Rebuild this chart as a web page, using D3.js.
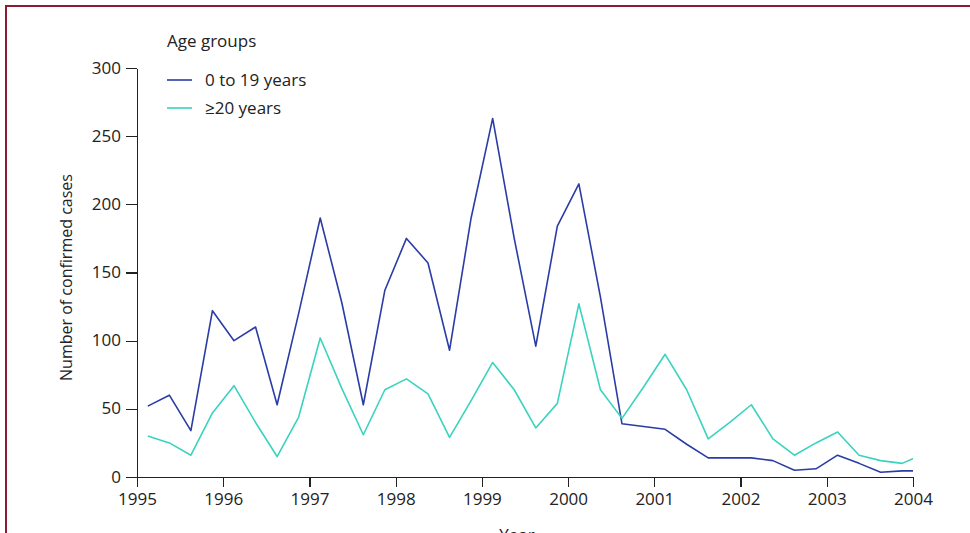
<!DOCTYPE html>
<html lang="en">
<head>
    <meta charset="UTF-8">
    <title>Confirmed cases by age group</title>
    <script src="https://d3js.org/d3.v7.min.js"></script>
    <style>
        * { margin: 0; padding: 0; box-sizing: border-box; }
        body { background: #fff; font-family: "Open Sans", sans-serif; overflow: hidden; }
        .axis path, .axis line { stroke: #222; stroke-width: 1.3; shape-rendering: crispEdges; }
        .axis text { font-size: 17px; fill: #222; font-family: "Open Sans", sans-serif; }
        .legend text { font-size: 17px; fill: #222; }
    </style>
</head>
<body>
    <div id="chart"></div>
    <script>
        // quarterly data, plotted at the middle of each quarter
        const quarters = [
            "1995-Q1", "1995-Q2", "1995-Q3", "1995-Q4",
            "1996-Q1", "1996-Q2", "1996-Q3", "1996-Q4",
            "1997-Q1", "1997-Q2", "1997-Q3", "1997-Q4",
            "1998-Q1", "1998-Q2", "1998-Q3", "1998-Q4",
            "1999-Q1", "1999-Q2", "1999-Q3", "1999-Q4",
            "2000-Q1", "2000-Q2", "2000-Q3", "2000-Q4",
            "2001-Q1", "2001-Q2", "2001-Q3", "2001-Q4",
            "2002-Q1", "2002-Q2", "2002-Q3", "2002-Q4",
            "2003-Q1", "2003-Q2", "2003-Q3", "2003-Q4",
            "2004-Q1"
        ];
        const young = [52, 60, 34, 122, 100, 110, 53, 120, 190, 128, 53, 137, 175, 157, 93, 190,
                       263, 175, 96, 184, 215, 132, 39, 37, 35, 24, 14, 14, 14, 12, 5, 6,
                       16, 10, 3.5, 4.5, 4.5];
        const adult = [30, 25, 16, 47, 67, 40, 15, 44, 102, 65, 31, 64, 72, 61, 29, 56,
                       84, 64, 36, 54, 127, 64, 43, 66, 90, 64, 28, 40, 53, 28, 16, 25,
                       33, 16, 12, 10, 17];
        const yearTicks = [1995, 1996, 1997, 1998, 1999, 2000, 2001, 2002, 2003, 2004];
        const countTicks = [0, 50, 100, 150, 200, 250, 300];
        const seriesNames = ["0 to 19 years", "\u226520 years"];
        const seriesColors = ["#2a3ca6", "#3ad3bf"];

        const W = 970, H = 533;
        const margin = { left: 137, right: 57, top: 68, bottom: 56 };

        const svg = d3.select("#chart").append("svg")
            .attr("width", W)
            .attr("height", H);

        // frame (bottom and right edges run off the picture)
        svg.append("rect")
            .attr("x", 6).attr("y", 6)
            .attr("width", W + 10).attr("height", 528)
            .attr("fill", "none")
            .attr("stroke", "#8c1c31")
            .attr("stroke-width", 2);

        const quarterPos = q => {
            const [yr, qq] = q.split("-Q");
            return +yr + (+qq - 0.5) / 4;
        };

        const x = d3.scaleLinear()
            .domain([1995, 2004])
            .range([margin.left, W - margin.right]);
        const y = d3.scaleLinear()
            .domain([0, 300])
            .range([H - margin.bottom, margin.top]);

        svg.append("g")
            .attr("class", "axis")
            .attr("transform", `translate(0,${H - margin.bottom})`)
            .call(d3.axisBottom(x)
                .tickValues(yearTicks)
                .tickFormat(d3.format("d"))
                .tickSize(10)
                .tickSizeOuter(0)
                .tickPadding(6));

        svg.append("g")
            .attr("class", "axis")
            .attr("transform", `translate(${margin.left},0)`)
            .call(d3.axisLeft(y)
                .tickValues(countTicks)
                .tickSize(11)
                .tickSizeOuter(0)
                .tickPadding(5))
            .selectAll(".tick text")
            .attr("dy", "0.3em");

        svg.append("text")
            .attr("transform", `translate(72,${y(150) + 5}) rotate(-90)`)
            .attr("text-anchor", "middle")
            .attr("font-size", 16)
            .attr("fill", "#222")
            .text("Number of confirmed cases");

        // x title: only its top shows, as in the original crop
        svg.append("text")
            .attr("x", (x(1995) + x(2004)) / 2 - 8)
            .attr("y", 541)
            .attr("text-anchor", "middle")
            .attr("font-size", 17)
            .attr("fill", "#222")
            .text("Year");

        svg.append("clipPath").attr("id", "plot-clip")
            .append("rect")
            .attr("x", x(1995)).attr("y", 0)
            .attr("width", x(2004) - x(1995)).attr("height", H);

        const line = d3.line()
            .x((d, i) => x(quarterPos(quarters[i])))
            .y(d => y(d));

        [young, adult].forEach((vals, k) => {
            svg.append("path")
                .datum(vals)
                .attr("clip-path", "url(#plot-clip)")
                .attr("fill", "none")
                .attr("stroke", seriesColors[k])
                .attr("stroke-width", 1.6)
                .attr("stroke-linejoin", "round")
                .attr("d", line);
        });

        // legend
        const legend = svg.append("g").attr("class", "legend");
        legend.append("text")
            .attr("x", 167).attr("y", 47)
            .text("Age groups");
        seriesNames.forEach((name, k) => {
            const ly = 80 + k * 28;
            legend.append("line")
                .attr("x1", 167).attr("x2", 192)
                .attr("y1", ly).attr("y2", ly)
                .attr("stroke", seriesColors[k])
                .attr("stroke-width", 1.6);
            legend.append("text")
                .attr("x", 205).attr("y", ly + 6)
                .text(name);
        });
    </script>
</body>
</html>
